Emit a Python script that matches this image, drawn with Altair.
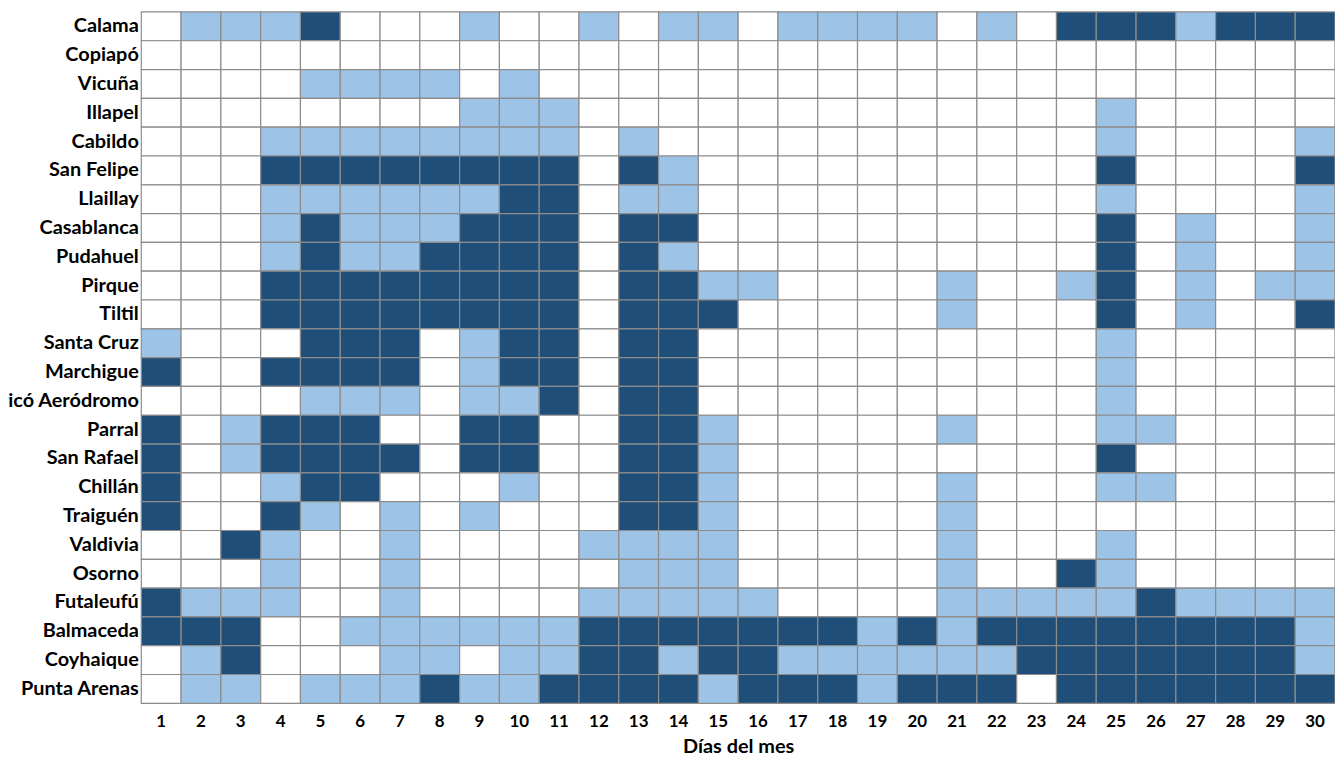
import altair as alt
import pandas as pd

stations = ["Calama", "Copiapó", "Vicuña", "Illapel", "Cabildo", "San Felipe",
            "Llaillay", "Casablanca", "Pudahuel", "Pirque", "Tiltil", "Santa Cruz",
            "Marchigue", "Curicó Aeródromo", "Parral", "San Rafael", "Chillán",
            "Traiguén", "Valdivia", "Osorno", "Futaleufú", "Balmaceda",
            "Coyhaique", "Punta Arenas"]

days = list(range(1, 31))

# 0 = sin evento, 1 = claro, 2 = oscuro
calama       = [0,1,1,1,2,0,0,0,1,0,0,1,0,1,1,0,1,1,1,1,0,1,0,2,2,2,1,2,2,2]
copiapo      = [0,0,0,0,0,0,0,0,0,0,0,0,0,0,0,0,0,0,0,0,0,0,0,0,0,0,0,0,0,0]
vicuna       = [0,0,0,0,1,1,1,1,0,1,0,0,0,0,0,0,0,0,0,0,0,0,0,0,0,0,0,0,0,0]
illapel      = [0,0,0,0,0,0,0,0,1,1,1,0,0,0,0,0,0,0,0,0,0,0,0,0,1,0,0,0,0,0]
cabildo      = [0,0,0,1,1,1,1,1,1,1,1,0,1,0,0,0,0,0,0,0,0,0,0,0,1,0,0,0,0,1]
san_felipe   = [0,0,0,2,2,2,2,2,2,2,2,0,2,1,0,0,0,0,0,0,0,0,0,0,2,0,0,0,0,2]
llaillay     = [0,0,0,1,1,1,1,1,1,2,2,0,1,1,0,0,0,0,0,0,0,0,0,0,1,0,0,0,0,1]
casablanca   = [0,0,0,1,2,1,1,1,2,2,2,0,2,2,0,0,0,0,0,0,0,0,0,0,2,0,1,0,0,1]
pudahuel     = [0,0,0,1,2,1,1,2,2,2,2,0,2,1,0,0,0,0,0,0,0,0,0,0,2,0,1,0,0,1]
pirque       = [0,0,0,2,2,2,2,2,2,2,2,0,2,2,1,1,0,0,0,0,1,0,0,1,2,0,1,0,1,1]
tiltil       = [0,0,0,2,2,2,2,2,2,2,2,0,2,2,2,0,0,0,0,0,1,0,0,0,2,0,1,0,0,2]
santa_cruz   = [1,0,0,0,2,2,2,0,1,2,2,0,2,2,0,0,0,0,0,0,0,0,0,0,1,0,0,0,0,0]
marchigue    = [2,0,0,2,2,2,2,0,1,2,2,0,2,2,0,0,0,0,0,0,0,0,0,0,1,0,0,0,0,0]
curico       = [0,0,0,0,1,1,1,0,1,1,2,0,2,2,0,0,0,0,0,0,0,0,0,0,1,0,0,0,0,0]
parral       = [2,0,1,2,2,2,0,0,2,2,0,0,2,2,1,0,0,0,0,0,1,0,0,0,1,1,0,0,0,0]
san_rafael   = [2,0,1,2,2,2,2,0,2,2,0,0,2,2,1,0,0,0,0,0,0,0,0,0,2,0,0,0,0,0]
chillan      = [2,0,0,1,2,2,0,0,0,1,0,0,2,2,1,0,0,0,0,0,1,0,0,0,1,1,0,0,0,0]
traiguen     = [2,0,0,2,1,0,1,0,1,0,0,0,2,2,1,0,0,0,0,0,1,0,0,0,0,0,0,0,0,0]
valdivia     = [0,0,2,1,0,0,1,0,0,0,0,1,1,1,1,0,0,0,0,0,1,0,0,0,1,0,0,0,0,0]
osorno       = [0,0,0,1,0,0,1,0,0,0,0,0,1,1,1,0,0,0,0,0,1,0,0,2,1,0,0,0,0,0]
futaleufu    = [2,1,1,1,0,0,1,0,0,0,0,1,1,1,1,1,0,0,0,0,1,1,1,1,1,2,1,1,1,1]
balmaceda    = [2,2,2,0,0,1,1,1,1,1,1,2,2,2,2,2,2,2,1,2,1,2,2,2,2,2,2,2,2,1]
coyhaique    = [0,1,2,0,0,0,1,1,0,1,1,2,2,1,2,2,1,1,1,1,1,1,2,2,2,2,2,2,2,1]
punta_arenas = [0,1,1,0,1,1,1,2,1,1,2,2,2,2,1,2,2,2,1,2,2,2,0,2,2,2,2,2,2,2]

rows = [calama, copiapo, vicuna, illapel, cabildo, san_felipe, llaillay,
        casablanca, pudahuel, pirque, tiltil, santa_cruz, marchigue, curico,
        parral, san_rafael, chillan, traiguen, valdivia, osorno, futaleufu,
        balmaceda, coyhaique, punta_arenas]

records = []
for name, vals in zip(stations, rows):
    for d, v in zip(days, vals):
        records.append({"Estación": name, "Día": d, "Nivel": v})
df = pd.DataFrame(records)

FONT = "Lato"

chart = alt.Chart(df).mark_rect(stroke="#8c8c8c", strokeWidth=1.2).encode(
    x=alt.X("Día:O", sort=days,
            scale=alt.Scale(paddingInner=0, paddingOuter=0),
            axis=alt.Axis(title="Días del mes", labelAngle=0, ticks=False,
                          domain=False, labelFontSize=17, labelFontWeight="bold",
                          labelColor="#000000", labelPadding=10,
                          titleFontSize=20, titleFontWeight="bold",
                          titleColor="#000000", titlePadding=7, labelFont=FONT,
                          titleFont=FONT)),
    y=alt.Y("Estación:N", sort=stations,
            scale=alt.Scale(paddingInner=0, paddingOuter=0),
            axis=alt.Axis(title=None, ticks=False, domain=False,
                          labelFontSize=20, labelFontWeight="bold",
                          labelColor="#000000", labelPadding=3,
                          labelLimit=400, labelFont=FONT)),
    color=alt.Color("Nivel:O",
                    scale=alt.Scale(domain=[0, 1, 2],
                                    range=["#ffffff", "#9dc3e6", "#1f4e79"]),
                    legend=None),
).properties(
    width=1200,
    height=695,
    autosize=alt.AutoSizeParams(type="none"),
    padding={"left": 134, "top": 2, "right": 0, "bottom": 55},
).configure_view(stroke=None)

chart.save("out.html", embed_options={"renderer": "svg", "actions": False})
